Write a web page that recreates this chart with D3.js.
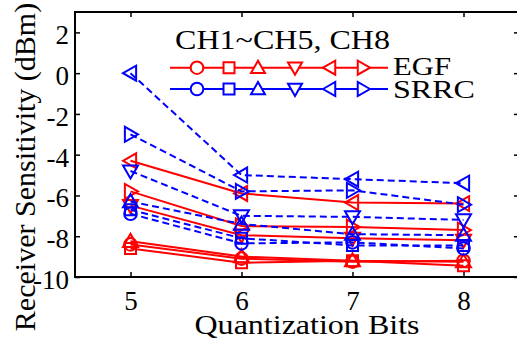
<!DOCTYPE html>
<html>
<head>
<meta charset="utf-8">
<script src="https://cdn.jsdelivr.net/npm/d3@7"></script>
<style>
  html, body { margin: 0; padding: 0; background: #fff; }
  svg { display: block; }
</style>
</head>
<body>
<svg id="chart" width="517" height="339"></svg>
<script>
// Quantization bits on the x axis
const bits = [5, 6, 7, 8];
const yTicks = [-10, -8, -6, -4, -2, 0, 2];

// Receiver sensitivity (dBm), EGF pulse shaping
const egfCh1 = [-8.4, -9.1, -9.25, -9.2];
const egfCh2 = [-8.6, -9.3, -9.2, -9.45];
const egfCh3 = [-8.25, -9.0, -9.2, -9.25];
const egfCh4 = [-6.5, -7.95, -8.1, -8.2];
const egfCh5 = [-4.3, -5.9, -6.35, -6.4];
const egfCh8 = [-5.8, -7.5, -7.55, -7.7];

// Receiver sensitivity (dBm), SRRC pulse shaping
const srrcCh1 = [-6.9, -8.35, -8.3, -8.6];
const srrcCh2 = [-6.7, -8.1, -8.45, -8.45];
const srrcCh3 = [-6.3, -7.4, -7.9, -7.95];
const srrcCh4 = [-4.8, -7.0, -7.05, -7.2];
const srrcCh5 = [0, -5.0, -5.2, -5.4];
const srrcCh8 = [-3.0, -5.8, -5.75, -6.45];

const channelMarkers = ["circle", "square", "up", "down", "left", "right"];
const filterNames = ["EGF", "SRRC"];
const legendTitle = "CH1~CH5, CH8";

const RED = "#ff0000", BLUE = "#0000ff";
const SERIF = "'Liberation Serif', 'Times New Roman', serif";

const series = [
  { vals: egfCh1, m: "circle", c: RED, dash: null },
  { vals: egfCh2, m: "square", c: RED, dash: null },
  { vals: egfCh3, m: "up", c: RED, dash: null },
  { vals: egfCh4, m: "down", c: RED, dash: null },
  { vals: egfCh5, m: "left", c: RED, dash: null },
  { vals: egfCh8, m: "right", c: RED, dash: null },
  { vals: srrcCh1, m: "circle", c: BLUE, dash: "7,4" },
  { vals: srrcCh2, m: "square", c: BLUE, dash: "7,4" },
  { vals: srrcCh3, m: "up", c: BLUE, dash: "7,4" },
  { vals: srrcCh4, m: "down", c: BLUE, dash: "7,4" },
  { vals: srrcCh5, m: "left", c: BLUE, dash: "7,4" },
  { vals: srrcCh8, m: "right", c: BLUE, dash: "7,4" }
];

const svg = d3.select("#chart");
const L = 75, T = 12, R = 519, B = 277;

const x = d3.scaleLinear().domain([4.5, 8.5]).range([L, R]);
const y = d3.scaleLinear().domain([-10, 3]).range([B, T]);

// marker path generator centred at 0,0
function markerPath(type, s) {
  const h = s / 2;
  switch (type) {
    case "circle": return d3.symbol(d3.symbolCircle, Math.PI * 6.3 * 6.3)();
    case "square": return `M${-5.5},${-5.5}H5.5V5.5H-5.5Z`;
    case "up": return `M0,${-h}L${h},${h * 0.75}L${-h},${h * 0.75}Z`;
    case "down": return `M0,${h}L${h},${-h * 0.75}L${-h},${-h * 0.75}Z`;
    case "left": return `M${-h},0L${h * 0.75},${-h}L${h * 0.75},${h}Z`;
    case "right": return `M${h},0L${-h * 0.75},${-h}L${-h * 0.75},${h}Z`;
  }
}

// data lines and markers
const line = d3.line().x((d, i) => x(bits[i])).y(d => y(d));
const plot = svg.append("g");
series.forEach(s => {
  plot.append("path")
    .attr("d", line(s.vals))
    .attr("fill", "none")
    .attr("stroke", s.c)
    .attr("stroke-width", 2)
    .attr("stroke-dasharray", s.dash);
  plot.selectAll(null).data(s.vals).enter().append("path")
    .attr("d", markerPath(s.m, 15))
    .attr("transform", (d, i) => `translate(${x(bits[i])},${y(d)})`)
    .attr("fill", "none")
    .attr("stroke", s.c)
    .attr("stroke-width", 2);
});

// axes frame
const frame = svg.append("g").attr("stroke", "#000").attr("stroke-width", 2).attr("fill", "none");
frame.append("path").attr("d", `M${R},${T}H${L}V${B}H${R}`);

const xBottom = d3.axisBottom(x).tickValues(bits).tickSize(-5).tickPadding(14).tickFormat(d3.format("d"));
const gx = svg.append("g").attr("transform", `translate(0,${B})`).call(xBottom);
gx.select(".domain").remove();
gx.selectAll("line").attr("stroke-width", 1.5);
gx.selectAll("text").attr("font-size", 27).style("font-family", SERIF).attr("fill", "#000").attr("dy", "0.72em");

const xTop = d3.axisTop(x).tickValues(bits).tickSize(-5).tickFormat("");
const gxt = svg.append("g").attr("transform", `translate(0,${T})`).call(xTop);
gxt.select(".domain").remove();
gxt.selectAll("line").attr("stroke-width", 1.5);

const yLeft = d3.axisLeft(y).tickValues(yTicks).tickSize(-5).tickPadding(6).tickFormat(d3.format("d"));
const gy = svg.append("g").attr("transform", `translate(${L},0)`).call(yLeft);
gy.select(".domain").remove();
gy.selectAll("line").attr("stroke-width", 1.5);
gy.selectAll("text").attr("font-size", 27).style("font-family", SERIF).attr("fill", "#000").attr("dy", "0.42em")
  .text(d => d < 0 ? "-" + Math.abs(d) : d);

const yRight = d3.axisRight(y).tickValues(yTicks).tickSize(-5).tickFormat("");
const gyr = svg.append("g").attr("transform", `translate(${R},0)`).call(yRight);
gyr.select(".domain").remove();
gyr.selectAll("line").attr("stroke-width", 1.5);

// axis titles
svg.append("text")
  .attr("x", 307).attr("y", 334)
  .attr("text-anchor", "middle")
  .attr("font-size", 28)
  .style("font-family", SERIF)
  .attr("textLength", 225).attr("lengthAdjust", "spacingAndGlyphs")
  .text("Quantization Bits");

svg.append("text")
  .attr("transform", "translate(35,167) rotate(-90)")
  .attr("text-anchor", "middle")
  .attr("font-size", 30)
  .style("font-family", SERIF)
  .text("Receiver Sensitivity (dBm)");

// legend
const legend = svg.append("g");
legend.append("text")
  .attr("x", 175).attr("y", 49)
  .attr("font-size", 27)
  .style("font-family", SERIF)
  .attr("textLength", 215).attr("lengthAdjust", "spacingAndGlyphs")
  .text(legendTitle);

const legendX = [197, 229, 258, 295, 330, 363];
const legendRows = [
  { name: filterNames[0], c: RED, ly: 67.7, ty: 75, tl: 58 },
  { name: filterNames[1], c: BLUE, ly: 89, ty: 98, tl: 82 }
];
legendRows.forEach(r => {
  legend.append("line")
    .attr("x1", 170).attr("x2", 388)
    .attr("y1", r.ly).attr("y2", r.ly)
    .attr("stroke", r.c).attr("stroke-width", 2);
  channelMarkers.forEach((m, i) => {
    legend.append("path")
      .attr("d", markerPath(m, 14))
      .attr("transform", `translate(${legendX[i]},${r.ly})`)
      .attr("fill", "#fff")
      .attr("stroke", r.c)
      .attr("stroke-width", 2);
  });
  legend.append("text")
    .attr("x", 393).attr("y", r.ty)
    .attr("font-size", 25)
    .style("font-family", SERIF)
    .attr("textLength", r.tl).attr("lengthAdjust", "spacingAndGlyphs")
    .text(r.name);
});
</script>
</body>
</html>
